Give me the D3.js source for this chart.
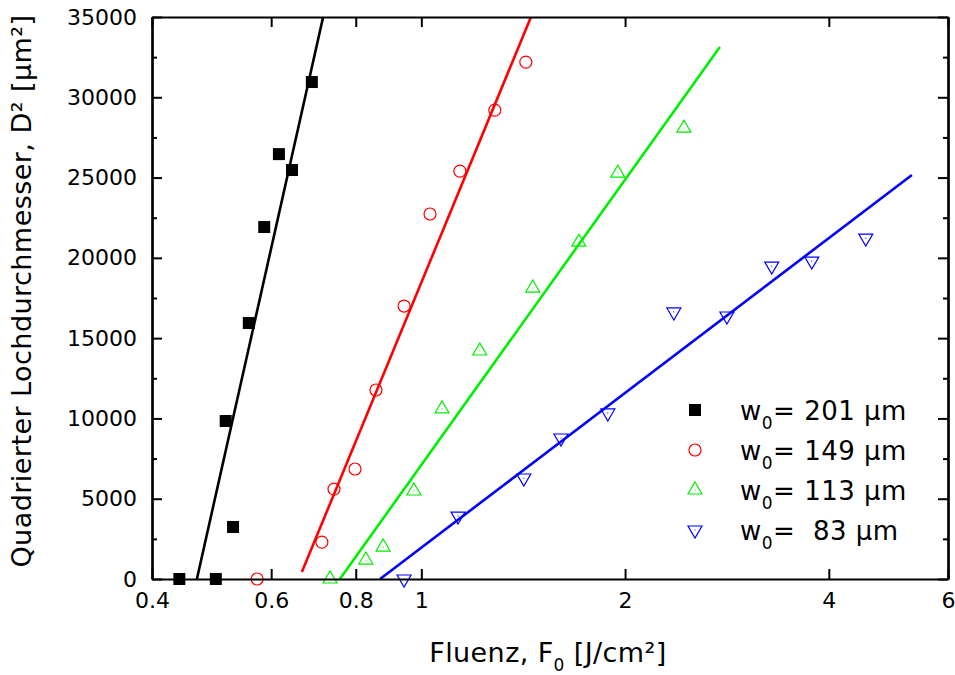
<!DOCTYPE html>
<html>
<head>
<meta charset="utf-8">
<script src="https://cdn.jsdelivr.net/npm/d3@7"></script>
<style>
  body { margin: 0; background: #fff; }
  svg text { font-family: "DejaVu Sans", Verdana, sans-serif; }
</style>
</head>
<body>
<svg id="chart" width="955" height="675"></svg>
<script>
// ---- Data ----
const legendValues = ["201", "149", "113", " 83"];

const f201 = [0.439, 0.497, 0.514, 0.527, 0.556, 0.586, 0.616, 0.644, 0.689];
const d201 = [0, 0, 9840, 3240, 15940, 21920, 26460, 25470, 30950];

const f149 = [0.572, 0.713, 0.743, 0.798, 0.857, 0.943, 1.030, 1.140, 1.284, 1.427];
const d149 = [0, 2300, 5600, 6850, 11770, 17000, 22730, 25400, 29200, 32190];

const f113 = [0.733, 0.828, 0.878, 0.975, 1.073, 1.220, 1.461, 1.709, 1.951, 2.443];
const d113 = [0, 1180, 1990, 5480, 10590, 14200, 18120, 20980, 25280, 28080];

const f83 = [0.943, 1.133, 1.417, 1.608, 1.886, 2.361, 2.828, 3.294, 3.775, 4.536];
const d83 = [0, 3920, 6290, 8780, 10340, 16630, 16380, 19490, 19800, 21230];

// Fit lines (start / end points, fluence and D²)
const fitF201 = [0.466, 0.716], fitD201 = [0, 35000];
const fitF149 = [0.666, 1.452], fitD149 = [436, 35000];
const fitF113 = [0.758, 2.761], fitD113 = [0, 33130];
const fitF83  = [0.869, 5.307], fitD83  = [0, 25160];

const xTicks = [0.4, 0.6, 0.8, 1, 2, 4, 6];
const yTicks = [0, 5000, 10000, 15000, 20000, 25000, 30000, 35000];
const yMinor = [2500, 7500, 12500, 17500, 22500, 27500, 32500];

const colors = ["#000000", "#ff0000", "#00ee00", "#0000ff"];
const shapes = ["square", "circle", "up", "down"];

// ---- Layout ----
const svg = d3.select("#chart");
const L = 152, R = 948, T = 17, B = 579;
const x = d3.scaleLog().domain([0.4, 6]).range([L, R]);
const y = d3.scaleLinear().domain([0, 35000]).range([B, T]);

svg.append("defs").append("clipPath").attr("id", "clip")
  .append("rect").attr("x", L).attr("y", T).attr("width", R - L).attr("height", B - T);

const plot = svg.append("g");

// fit lines
const fits = [[fitF201, fitD201], [fitF149, fitD149], [fitF113, fitD113], [fitF83, fitD83]];
const lineGen = d3.line().x(d => x(d[0])).y(d => y(d[1]));
fits.forEach((fd, i) => {
  const pts = fd[0].map((f, k) => [f, fd[1][k]]);
  plot.append("path").attr("d", lineGen(pts))
    .attr("fill", "none").attr("stroke", colors[i]).attr("stroke-width", 2.6)
    .attr("clip-path", "url(#clip)");
});

function drawMarker(g, shape, color, cx, cy) {
  if (shape === "square") {
    g.append("rect").attr("x", cx - 6).attr("y", cy - 6).attr("width", 12).attr("height", 12)
      .attr("fill", color);
  } else if (shape === "circle") {
    g.append("circle").attr("cx", cx).attr("cy", cy).attr("r", 6)
      .attr("fill", "none").attr("stroke", color).attr("stroke-width", 1.2);
  } else {
    const s = 7, h = 12;
    const up = shape === "up";
    const pts = up
      ? [[cx - s, cy + h / 3], [cx + s, cy + h / 3], [cx, cy - 2 * h / 3]]
      : [[cx - s, cy - h / 3], [cx + s, cy - h / 3], [cx, cy + 2 * h / 3]];
    g.append("polygon").attr("points", pts.map(p => p.join(",")).join(" "))
      .attr("fill", "none").attr("stroke", color).attr("stroke-width", 1.2);
    g.append("circle").attr("cx", cx).attr("cy", cy).attr("r", 0.6).attr("fill", color);
  }
}

const data = [[f201, d201], [f149, d149], [f113, d113], [f83, d83]];
data.forEach((sd, i) => {
  const g = plot.append("g");
  sd[0].forEach((f, k) => drawMarker(g, shapes[i], colors[i], x(f), y(sd[1][k])));
});

// ---- Axes ----
const fmtX = d => String(d);
const ax = svg.append("g");
ax.append("g").attr("transform", `translate(0,${B})`)
  .call(d3.axisBottom(x).tickValues(xTicks).tickFormat(fmtX).tickSize(-10).tickSizeOuter(0).tickPadding(13));
ax.append("g").attr("transform", `translate(0,${T})`)
  .call(d3.axisTop(x).tickValues(xTicks).tickFormat("").tickSize(-10).tickSizeOuter(0));
ax.append("g").attr("transform", `translate(${L},0)`)
  .call(d3.axisLeft(y).tickValues(yTicks).tickFormat(d3.format("d")).tickSize(-10).tickSizeOuter(0).tickPadding(15));
ax.append("g").attr("transform", `translate(${R},0)`)
  .call(d3.axisRight(y).tickValues(yTicks).tickFormat("").tickSize(-10).tickSizeOuter(0));
ax.append("g").attr("transform", `translate(${L},0)`)
  .call(d3.axisLeft(y).tickValues(yMinor).tickFormat("").tickSize(-5).tickSizeOuter(0));
ax.append("g").attr("transform", `translate(${R},0)`)
  .call(d3.axisRight(y).tickValues(yMinor).tickFormat("").tickSize(-5).tickSizeOuter(0));

ax.selectAll(".domain").attr("stroke", "#000").attr("stroke-width", 2.2);
ax.selectAll(".tick line").attr("stroke", "#000").attr("stroke-width", 2);
ax.selectAll(".tick text").attr("font-size", 22).attr("fill", "#000")
  .attr("font-family", "'DejaVu Sans', Verdana, sans-serif");

// ---- Axis titles ----
const xt = svg.append("text").attr("x", 548).attr("y", 662).attr("text-anchor", "middle")
  .attr("font-size", 27).attr("letter-spacing", 0.4).attr("fill", "#000")
  .style("white-space", "pre");
xt.append("tspan").text("Fluenz, F");
xt.append("tspan").attr("font-size", 17).attr("dy", 9).text("0");
xt.append("tspan").attr("dy", -9).text(" [J/cm²]");

svg.append("text").attr("transform", "translate(31,291) rotate(-90)")
  .attr("text-anchor", "middle").attr("font-size", 27).attr("letter-spacing", 0.45).attr("fill", "#000")
  .text("Quadrierter Lochdurchmesser, D² [µm²]");

// ---- Legend ----
const leg = svg.append("g");
legendValues.forEach((v, i) => {
  const cy = 410 + i * 40;
  drawMarker(leg, shapes[i], colors[i], 695, cy);
  const t = leg.append("text").attr("x", 740).attr("y", cy + 10)
    .attr("font-size", 26).attr("letter-spacing", 0.5).attr("fill", "#000")
    .attr("xml:space", "preserve").style("white-space", "pre");
  t.append("tspan").text("w");
  t.append("tspan").attr("font-size", 17).attr("dy", 9).text("0");
  t.append("tspan").attr("dy", -9).text("= " + v + " µm");
});
</script>
</body>
</html>
